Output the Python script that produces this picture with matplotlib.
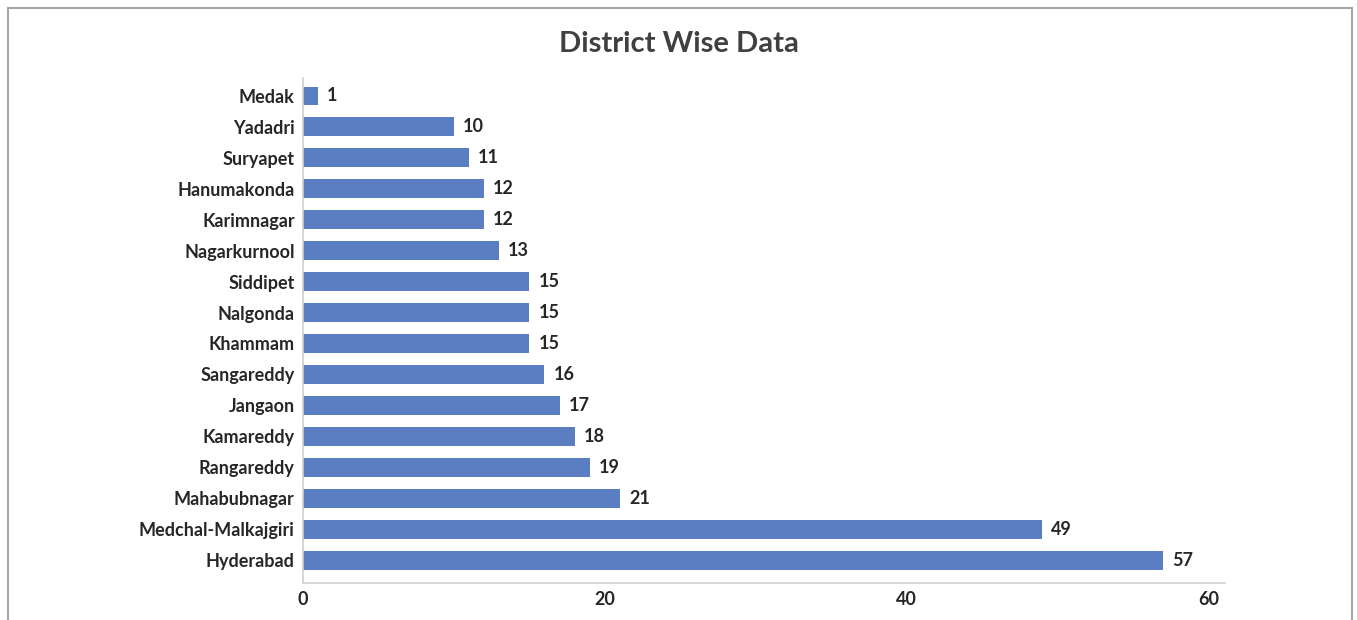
import matplotlib.pyplot as plt
from matplotlib.patches import Rectangle

# data (bottom to top)
districts = ["Hyderabad", "Medchal-Malkajgiri", "Mahabubnagar", "Rangareddy",
             "Kamareddy", "Jangaon", "Sangareddy", "Khammam", "Nalgonda",
             "Siddipet", "Nagarkurnool", "Karimnagar", "Hanumakonda",
             "Suryapet", "Yadadri", "Medak"]
counts = [57, 49, 21, 19, 18, 17, 16, 15, 15, 15, 13, 12, 12, 11, 10, 1]
x_ticks = [0, 20, 40, 60]

plt.rcParams['font.family'] = ['Lato', 'DejaVu Sans']

fig = plt.figure(figsize=(13.57, 6.2), dpi=100)
ax = fig.add_axes([303/1357, 37/620, (1225-303)/1357, (583-78)/620])

# outer frame like the exported chart
fig.patches.append(Rectangle((8/1357, -0.05), (1352-8)/1357, (620-8)/620 + 0.05,
                             transform=fig.transFigure, fill=False,
                             edgecolor='#a6a6a6', linewidth=1.5))

ypos = list(range(len(districts)))
ax.barh(ypos, counts, height=0.61, color='#5b7ec3')
for y, v in zip(ypos, counts):
  ax.annotate(str(v), (v, y), xytext=(6.5, 0), textcoords='offset points',
              va='center', ha='left', fontsize=13, fontweight='bold', color='#262626')

ax.set_yticks(ypos)
ax.set_yticklabels(districts, fontsize=13, fontweight='bold', color='#262626')
ax.set_xticks(x_ticks)
ax.set_xticklabels([str(t) for t in x_ticks], fontsize=13, fontweight='bold', color='#262626')
ax.tick_params(length=0, pad=6)
ax.tick_params(axis='x', pad=6)
ax.set_xlim(0, 61.1)
ax.set_ylim(-0.74, 15.58)

for s in ['top', 'right']:
  ax.spines[s].set_visible(False)
for s in ['left', 'bottom']:
  ax.spines[s].set_color('#d0d0d0')
  ax.spines[s].set_linewidth(1.2)

fig.text(0.5, 576/620, "District Wise Data", ha='center', va='center',
         fontsize=21, fontweight='bold', color='#404040')

fig.savefig("out.png", dpi=100)
